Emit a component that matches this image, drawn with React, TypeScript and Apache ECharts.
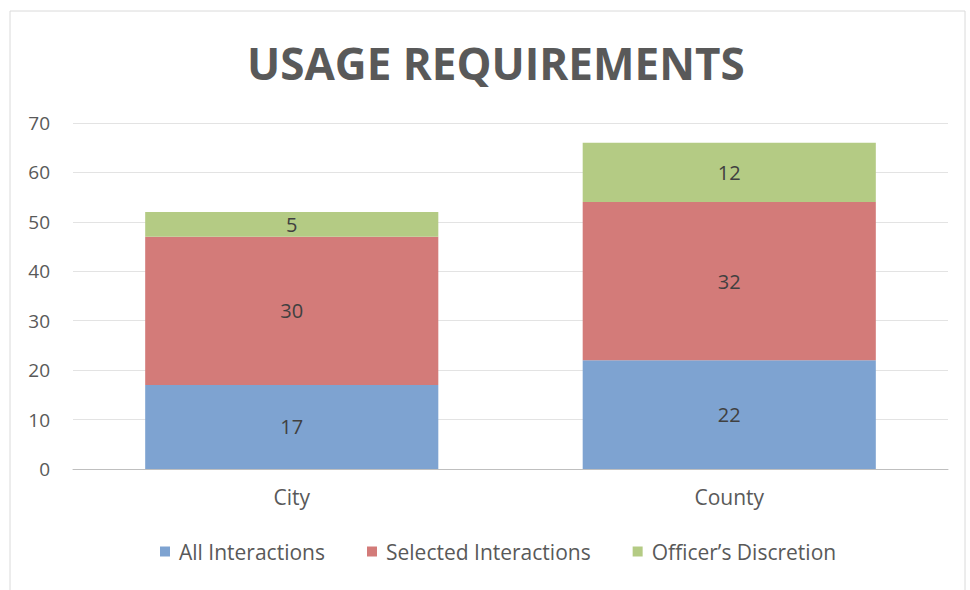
import React, { useEffect, useRef } from "react";
import * as echarts from "echarts";

const categories = ["City", "County"];
const allInteractions = [17, 22];
const selectedInteractions = [30, 32];
const officersDiscretion = [5, 12];
const seriesNames = ["All Interactions", "Selected Interactions", "Officer\u2019s Discretion"];
const yTicks = { min: 0, max: 70, interval: 10 };

const FONT = "'Open Sans', sans-serif";

export default function App() {
  const ref = useRef<HTMLDivElement>(null);
  useEffect(() => {
    if (!ref.current) return;
    const chart = echarts.init(ref.current, undefined, { renderer: "svg" });
    const colors = ["#7ea3d1", "#d37b79", "#b4cb84"];
    const values = [allInteractions, selectedInteractions, officersDiscretion];
    chart.setOption({
      animation: false,
      backgroundColor: "#ffffff",
      title: {
        text: "USAGE REQUIREMENTS",
        left: 242,
        top: 36,
        textStyle: { fontFamily: FONT, fontSize: 44, fontWeight: "bold", color: "#595959" },
      },
      grid: { left: 73, right: 22, top: 123, bottom: 121, containLabel: false },
      legend: {
        top: 536,
        left: 155,
        itemWidth: 10,
        itemHeight: 10,
        itemGap: 42,
        icon: "rect",
        textStyle: { fontFamily: FONT, fontSize: 21, color: "#595959", padding: [0, 0, 0, 4] },
        data: seriesNames,
      },
      xAxis: {
        type: "category",
        data: categories,
        axisLine: { lineStyle: { color: "#bfbfbf", width: 1 } },
        axisTick: { show: false },
        axisLabel: { fontFamily: FONT, fontSize: 21, color: "#595959", margin: 17 },
      },
      yAxis: {
        type: "value",
        min: yTicks.min,
        max: yTicks.max,
        interval: yTicks.interval,
        axisLine: { show: false },
        axisTick: { show: false },
        axisLabel: { fontFamily: FONT, fontSize: 19, color: "#595959", margin: 23 },
        splitLine: { lineStyle: { color: "#e3e3e3", width: 1 } },
      },
      graphic: [
        {
          type: "rect",
          shape: { x: 10, y: 11, width: 955, height: 600 },
          style: { fill: "none", stroke: "#dadada", lineWidth: 1 },
          silent: true,
        },
      ],
      series: seriesNames.map((name, i) => ({
        name,
        type: "bar",
        stack: "total",
        barWidth: "67%",
        data: values[i],
        itemStyle: { color: colors[i] },
        label: {
          show: true,
          position: "inside",
          fontFamily: FONT,
          fontSize: 20,
          color: "#404040",
        },
      })),
    });
    return () => chart.dispose();
  }, []);
  return (
    <div
      ref={ref}
      style={{ position: "fixed", left: 0, top: 0, width: 970, height: 590 }}
    />
  );
}
